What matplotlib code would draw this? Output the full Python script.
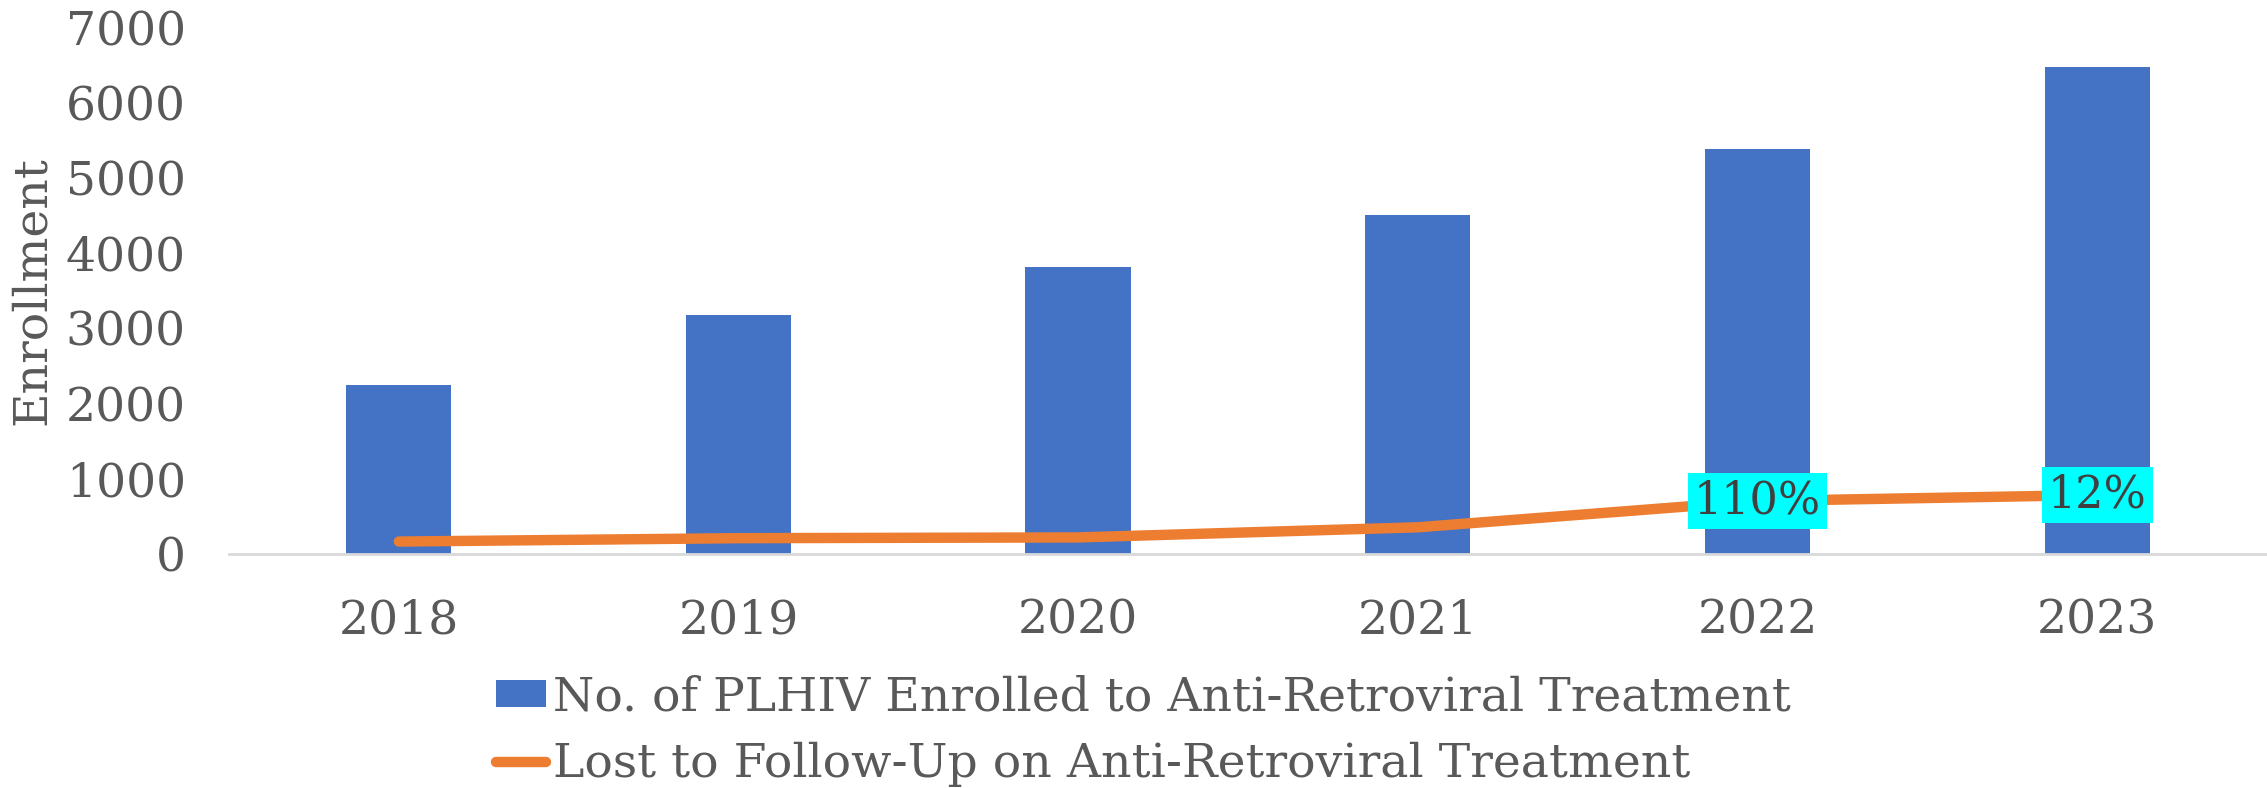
import matplotlib
matplotlib.use("Agg")
import matplotlib.pyplot as plt
from matplotlib.lines import Line2D
from matplotlib.patches import Patch

# valori
years = ["2018", "2019", "2020", "2021", "2022", "2023"]
enrolled = [2240, 3180, 3820, 4510, 5390, 6480]
lost = [160, 205, 215, 350, 700, 780]
pct_labels = {4: "110%", 5: "12%"}

BLUE = "#4472C4"
ORANGE = "#ED7D31"
GREY = "#595959"
FS = 34

plt.rcParams["font.family"] = ["DejaVu Serif"]
plt.rcParams["font.size"] = FS

fig = plt.figure(figsize=(22.67, 7.88), dpi=100)
ax = fig.add_axes([0.101, 0.2975, 0.899, 0.6670])

x = list(range(len(years)))
ax.bar(x, enrolled, width=0.31, color=BLUE, zorder=2)
ax.plot(x, lost, color=ORANGE, linewidth=7.5, solid_capstyle="round",
        solid_joinstyle="round", zorder=3)

# etichette percentuali con sfondo ciano
for i, txt in pct_labels.items():
    ax.annotate(txt, (x[i], lost[i]), ha="center", va="center",
                color="#404040", fontsize=32, zorder=4,
                bbox=dict(boxstyle="square,pad=0.14", fc="#00FFFF", ec="none"))

ax.set_xlim(-0.5, 5.5)
ax.set_ylim(0, 7000)
ax.set_yticks(range(0, 7001, 1000))
ax.set_xticks(x)
ax.set_xticklabels(years)
ax.tick_params(axis="both", length=0, colors=GREY, labelsize=FS)
ax.tick_params(axis="y", pad=31)
ax.tick_params(axis="x", pad=32)
for s in ["top", "right", "left"]:
    ax.spines[s].set_visible(False)
ax.spines["bottom"].set_color("#D9D9D9")
ax.spines["bottom"].set_linewidth(2)
ax.set_ylabel("Enrollment", color=GREY, fontsize=FS, labelpad=8)

handles = [Patch(facecolor=BLUE, edgecolor="none"),
           Line2D([0], [0], color=ORANGE, linewidth=7.5, solid_capstyle="round")]
labels = ["No. of PLHIV Enrolled to Anti-Retroviral Treatment",
          "Lost to Follow-Up on Anti-Retroviral Treatment"]
fig.legend(handles, labels, loc="upper left", bbox_to_anchor=(0.219, 0.143),
           frameon=False, borderpad=0, borderaxespad=0, handlelength=1.05,
           handleheight=0.5, handletextpad=0.15, labelspacing=0.45,
           labelcolor=GREY, fontsize=FS)

fig.savefig("out.png", dpi=100)
